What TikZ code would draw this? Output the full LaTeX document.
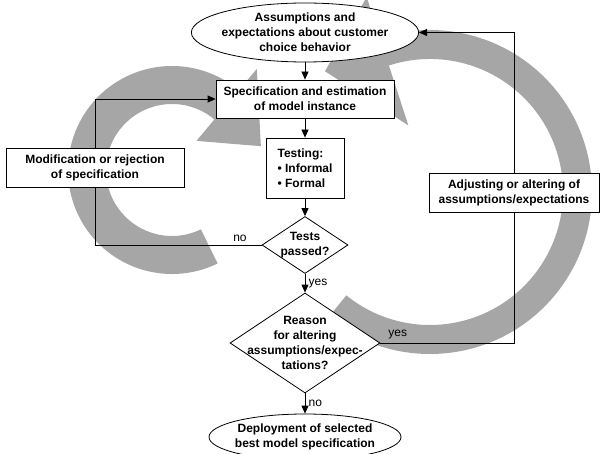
\documentclass[tikz,border=0pt]{standalone}
\usepackage{fontspec}
\setmainfont{Liberation Sans}
\usetikzlibrary{shapes.geometric, arrows.meta}

\begin{document}
\begin{tikzpicture}[x=1pt, y=1pt, line width=0.8pt, >={Triangle[length=8pt, width=7pt]},
  font=\fontsize{12}{15}\selectfont,
  box/.style={draw, fill=white, align=center, inner sep=2pt, font=\fontsize{12}{15}\selectfont\bfseries},
  oval/.style={ellipse, draw, fill=white, align=center, inner sep=-3pt, font=\fontsize{12}{15}\selectfont\bfseries},
  decision/.style={diamond, draw, fill=white, align=center, aspect=1.5, inner sep=-12pt, font=\fontsize{12}{15}\selectfont\bfseries},
  ring/.style={fill=black!35}]
\useasboundingbox (0, 0) rectangle (602, -454);
\clip (0, 0) rectangle (602, -454);

% grey cycle arrows behind the chart
\begin{scope}[shift={(172, -170)}]
\fill[ring] (-64:104) arc[start angle=-64, end angle=-310, radius=104] -- (50:132) -- (15:92)
  -- (50:38) -- (50:66) arc[start angle=50, end angle=296, radius=66] -- cycle;
\end{scope}
\begin{scope}[shift={(430, -192)}]
\fill[ring] (-129:162) arc[start angle=-129, end angle=108, radius=162] -- (108:205) -- (131:160)
  -- (108:70) -- (108:133) arc[start angle=108, end angle=-129, radius=133] -- cycle;
\end{scope}

% main flow
\node[oval, minimum width=226, minimum height=59] (assume) at (305, -32.5) {Assumptions and\\expectations about customer\\choice behavior};
\node[box, minimum width=178, minimum height=38] (spec) at (305, -99) {Specification and estimation\\of model instance};
\node[box, align=left, minimum width=78, minimum height=60] (test) at (305, -168) {Testing:\\\textbullet\ Informal\\\textbullet\ Formal};
\node[decision, minimum width=86, minimum height=57] (passed) at (305, -245) {Tests\\passed?};
\node[decision, minimum width=150, minimum height=100] (reason) at (305, -343) {Reason\\for altering\\assumptions/expec-\\tations?};
\node[oval, minimum width=192, minimum height=46] (deploy) at (305, -437) {Deployment of selected\\best model specification};

% side boxes
\node[box, minimum width=178, minimum height=39] (modify) at (95, -167.5) {Modification or rejection\\of specification};
\node[box, minimum width=170, minimum height=39] (adjust) at (514, -192.5) {Adjusting or altering of\\assumptions/expectations};

\draw[->] (assume.south) -- (spec.north);
\draw[->] (spec.south) -- (test.north);
\draw[->] (test.south) -- (passed.north);
\draw[->] (passed.south) -- node[right] (yes1) {yes} (reason.north);
\draw[->] (reason.south) -- node[right] (no2) {no} (deploy.north);

% loops back
\draw (passed.west) -- node[above, pos=0.13] (no1) {no} (passed.west -| modify.south) -- (modify.south);
\draw[->] (modify.north) |- (spec.west);
\draw (reason.east) -- node[above, pos=0.13] (yes2) {yes} (reason.east -| adjust.south) -- (adjust.south);
\draw[->] (adjust.north) |- (assume.east);
\end{tikzpicture}
\end{document}
